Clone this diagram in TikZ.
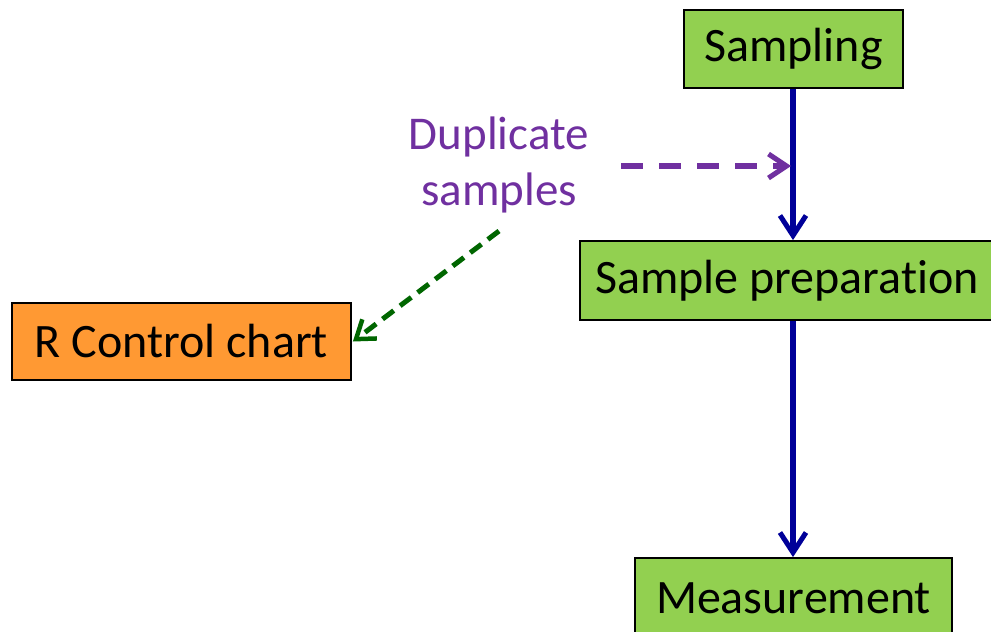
\documentclass[tikz,border=0pt]{standalone}
\usepackage{fontspec}
\setmainfont[Ligatures=NoCommon]{Carlito}
\usetikzlibrary{arrows.meta}
\definecolor{boxgreen}{HTML}{92D050}
\definecolor{boxorange}{HTML}{FF9933}
\definecolor{flowblue}{HTML}{000099}
\definecolor{dupviolet}{HTML}{7030A0}
\definecolor{chartgreen}{HTML}{006600}
\begin{document}
\begin{tikzpicture}[x=1pt,y=-1pt,
  stepbox/.style={draw=black,line width=1.8pt,inner sep=0pt,font=\fontsize{48}{56}\selectfont},
  flow/.style={draw=flowblue,line width=5.5pt,-{Straight Barb[length=20pt,width=26pt,line width=5pt]}},
  dupline/.style={draw=dupviolet,line width=5.5pt,dash pattern=on 22pt off 16pt,-{Straight Barb[length=18pt,width=24pt,line width=5pt]}},
  chartline/.style={draw=chartgreen,line width=5pt,dash pattern=on 14pt off 8pt,-{Straight Barb[length=17pt,width=24pt,line width=4.5pt]}}]
  \useasboundingbox (0,0) rectangle (991,632);
  % process steps
  \node[stepbox,fill=boxgreen,minimum width=219pt,minimum height=78pt] (samp) at (793.5,49) {Sampling};
  \node[stepbox,fill=boxgreen,minimum width=414pt,minimum height=79pt] (prep) at (787,280.5) {Sample preparation};
  \node[stepbox,fill=boxgreen,minimum width=317pt,minimum height=80pt] (meas) at (793.5,598) {Measurement};
  \node[stepbox,fill=boxorange,minimum width=339pt,minimum height=77pt] (chart) at (181.5,341.5) {R Control chart};
  \node[text=dupviolet,align=center,font=\fontsize{47}{56}\selectfont] (dup) at (499,165) {Duplicate\\samples};
  % connector end points
  \coordinate (mid) at (793,166);
  \coordinate (dupend) at (621,166);
  \coordinate (chartstart) at (499,231);
  \draw[flow] (samp.south -| mid) -- (prep.north -| mid);
  \draw[flow] (prep.south -| mid) -- (meas.north -| mid);
  \draw[dupline] (dupend) -- ([xshift=-2pt]mid);
  \draw[chartline] (chartstart) -- ([xshift=1pt]chart.east);
\end{tikzpicture}
\end{document}
